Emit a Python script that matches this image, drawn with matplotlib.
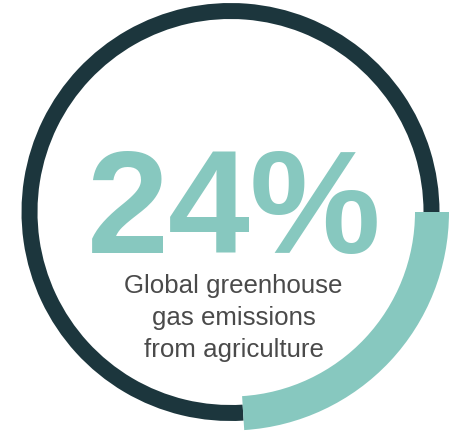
import matplotlib
matplotlib.use("Agg")
import matplotlib.pyplot as plt

# data
share = 24
rest = 100 - share
big_label = "24%"
caption_lines = ["Global greenhouse", "gas emissions", "from agriculture"]

dark = "#1c363d"
teal = "#87c8bf"
grey = "#4a4a4a"

fig = plt.figure(figsize=(4.57, 4.32), dpi=100)
ax = fig.add_axes([0, 0, 1, 1])
ax.set_xlim(0, 457)
ax.set_ylim(0, 432)
ax.set_aspect("equal")
ax.axis("off")

cx, cy = 230.5, 220

# dark ring for the rest
ax.pie([share, rest], colors=["none", dark], startangle=0, counterclock=False,
       radius=209, center=(cx, cy), wedgeprops=dict(width=16, linewidth=0),
       frame=True)
# teal thick arc for the share
ax.pie([share, rest], colors=[teal, "none"], startangle=0, counterclock=False,
       radius=218.5, center=(cx, cy), wedgeprops=dict(width=34, linewidth=0),
       frame=True)
ax.set_xlim(0, 457)
ax.set_ylim(0, 432)
ax.axis("off")

ax.text(234, 432 - 253, big_label, ha="center", va="baseline",
        fontsize=106, fontweight="bold", color=teal, family="Liberation Sans")

for i, line in enumerate(caption_lines):
    ax.text(233.5, 432 - (293 + 32 * i), line, ha="center", va="baseline",
            fontsize=18.6, color=grey, family="Liberation Sans")

fig.savefig("out.png", dpi=100)
